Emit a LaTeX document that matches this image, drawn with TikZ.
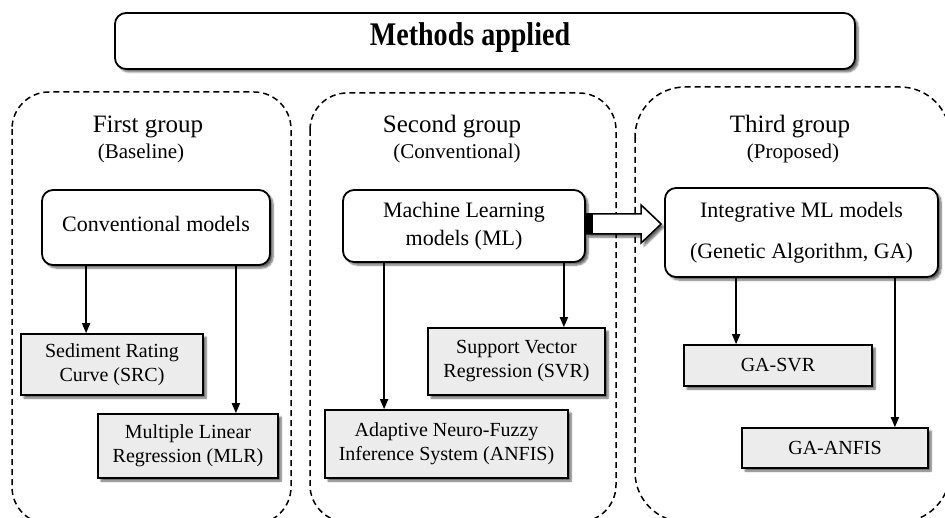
\documentclass[tikz,border=0pt]{standalone}
\usepackage{fontspec}
\setmainfont{Liberation Serif}
\usetikzlibrary{shadows.blur,arrows.meta,calc}
\definecolor{boxgray}{RGB}{236,236,236}
\tikzset{
  grp/.style={draw, line width=1.5pt, dash pattern=on 6pt off 4pt, rounded corners=37pt},
  shad/.style={blur shadow={shadow xshift=3pt, shadow yshift=-3pt, shadow blur steps=6, shadow opacity=60}},
  rbox/.style={draw, line width=1.8pt, rounded corners=11pt, fill=white, shad,
    font=\fontsize{22}{28}\selectfont, align=center, inner sep=0pt},
  gbox/.style={draw, line width=1.6pt, fill=boxgray, shad,
    font=\fontsize{20}{24}\selectfont, align=center, inner sep=0pt},
  arr/.style={line width=1.6pt, -{Triangle[length=10pt,width=8pt]}},
  gtitle/.style={font=\fontsize{25}{30}\selectfont, inner sep=0pt},
  gsub/.style={font=\fontsize{21}{25}\selectfont, inner sep=0pt},
}
\begin{document}
\begin{tikzpicture}[x=1pt,y=-1pt]
\useasboundingbox (0,0) rectangle (945,518);
% groups
\draw[grp] (12,92) rectangle (291,524);
\draw[grp] (310,93) rectangle (616,522);
\draw[grp, rounded corners=50pt] (635,87) rectangle (950,522);
% title
\node[rbox, minimum width=740pt, minimum height=56pt] (title) at (485,41) {};
\node[inner sep=0pt, font=\fontsize{33}{38}\selectfont\bfseries] (titletext) at (470,38) {\scalebox{0.85}[1]{Methods applied}};
% group titles
\node[gtitle] (g1) at (148,127) {First group};
\node[gsub] (g1s) at (141,153) {(Baseline)};
\node[gtitle] (g2) at (452,127) {Second group};
\node[gsub] (g2s) at (457,153) {(Conventional)};
\node[gtitle] (g3) at (790,127) {Third group};
\node[gsub] (g3s) at (793,153) {(Proposed)};
% main boxes
\node[rbox, minimum width=228pt, minimum height=75pt] (CM) at (156,227.5) {\raisebox{8pt}{Conventional models}};
\node[rbox, minimum width=242pt, minimum height=72pt] (ML) at (464,226) {Machine Learning\\models (ML)};
\node[rbox, minimum width=273pt, minimum height=89pt] (IN) at (801.5,232.5) {Integrative ML models\\[13pt](Genetic Algorithm, GA)};
% model boxes
\node[gbox, minimum width=182pt, minimum height=61pt] (SRC) at (112,364.5) {Sediment Rating\\Curve (SRC)};
\node[gbox, minimum width=180pt, minimum height=64pt] (MLR) at (188,446) {Multiple Linear\\Regression (MLR)};
\node[gbox, minimum width=177pt, minimum height=67pt] (SVR) at (516.5,361.5) {Support Vector\\Regression (SVR)};
\node[gbox, minimum width=243pt, minimum height=68pt] (ANFIS) at (446.5,444) {Adaptive Neuro-Fuzzy\\Inference System (ANFIS)};
\node[gbox, minimum width=188pt, minimum height=41pt] (GSVR) at (778,365.5) {GA-SVR};
\node[gbox, minimum width=186pt, minimum height=40pt] (GANFIS) at (835,448) {GA-ANFIS};
% arrows
\coordinate (a1) at ($(CM.south west)+(45,0)$);
\coordinate (a2) at ($(CM.south east)+(-35,0)$);
\coordinate (a3) at ($(ML.south west)+(42,0)$);
\coordinate (a4) at ($(ML.south east)+(-22,0)$);
\coordinate (a5) at ($(IN.south west)+(72,0)$);
\coordinate (a6) at ($(IN.south east)+(-44,0)$);
\draw[arr] (a1) -- (a1 |- SRC.north);
\draw[arr] (a2) -- (a2 |- MLR.north);
\draw[arr] (a3) -- (a3 |- ANFIS.north);
\draw[arr] (a4) -- (a4 |- SVR.north);
\draw[arr] (a5) -- (a5 |- GSVR.north);
\draw[arr] (a6) -- (a6 |- GANFIS.north);
% block arrow ML -> IN
\path let \p1=(ML.east), \p2=(IN.west) in
  coordinate (bt) at (\x1,\y1+2)
  coordinate (bh) at (\x2-3,\y1+2);
\draw[line width=1.5pt, fill=white, shad, line join=miter]
  let \p1=(bt), \p2=(bh) in
  (\x1,\y1+10) -- (\x2-20,\y1+10) -- (\x2-20,\y1+19) -- (\x2,\y1) -- (\x2-20,\y1-19) -- (\x2-20,\y1-10) -- (\x1,\y1-10) -- cycle;
\fill let \p1=(bt) in (\x1,\y1-10.5) rectangle (\x1+7,\y1+10.5);
\end{tikzpicture}
\end{document}
